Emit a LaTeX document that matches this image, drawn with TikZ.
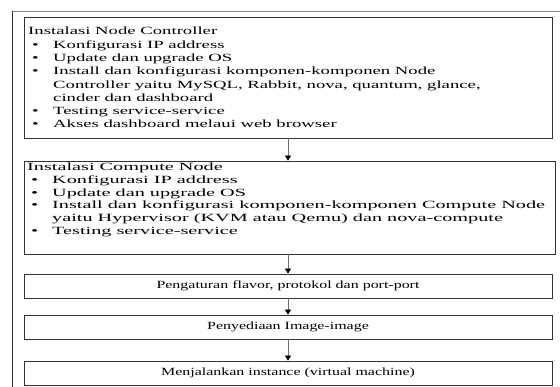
\documentclass[tikz,border=0pt]{standalone}
\usepackage{fontspec}
\setmainfont{Liberation Serif}[FakeStretch=1.45]
\newfontfamily\listfa{Liberation Serif}[FakeStretch=1.70]
\newfontfamily\listfb{Liberation Serif}[FakeStretch=1.84]
\usetikzlibrary{arrows.meta}
\definecolor{edge}{HTML}{333333}
\definecolor{frame}{HTML}{8A8A8A}
\definecolor{conn}{HTML}{707070}
\newcommand\bl{\hspace*{4pt}\makebox[21pt][l]{\textbullet}}
\newcommand\ind{\hspace*{25pt}}
\tikzset{
  box/.style={draw=edge, line width=0.8pt, inner sep=0pt, rectangle},
  listtext/.style={inner sep=0pt, align=left, anchor=north west},
  flow/.style={draw=conn, line width=0.8pt, -{Triangle[length=5pt,width=6pt,color=black]}},
  mid/.style={inner sep=0pt}
}
\begin{document}
\begin{tikzpicture}[x=1pt,y=-1pt,font=\fontsize{11}{13.3}\selectfont]
\useasboundingbox (0,0) rectangle (560,387);
% outer frame
\coordinate (ftl) at (12,11);
\coordinate (ftr) at (560,11);
\coordinate (fbl) at (12,387);
\draw[frame, line width=0.8pt] (ftl) -- (ftr);
\draw[edge, line width=0.8pt] (ftl) -- (fbl);
% boxes
\node[box, minimum width=528pt, minimum height=121pt] (b1) at (288,77.5) {};
\node[box, minimum width=531pt, minimum height=93pt] (b2) at (289.5,207.5) {};
\node[box, minimum width=528pt, minimum height=24pt] (b3) at (288,286) {};
\node[box, minimum width=528pt, minimum height=24pt] (b4) at (288,327) {};
\node[box, minimum width=528pt, minimum height=24pt] (b5) at (288,373) {};
% texts
\node[listtext, font=\fontsize{11}{13.3}\listfa] (t1) at (28,27) {Instalasi Node Controller\\
\bl Konfigurasi IP address\\
\bl Update dan upgrade OS\\
\bl Install dan konfigurasi komponen-komponen Node\\
\ind Controller yaitu MySQL, Rabbit, nova, quantum, glance,\\
\ind cinder dan dashboard\\
\bl Testing service-service\\
\bl Akses dashboard melaui web browser};
\node[listtext, font=\fontsize{11}{12.7}\listfb] (t2) at (27,163) {Instalasi Compute Node\\
\bl Konfigurasi IP address\\
\bl Update dan upgrade OS\\
\bl Install dan konfigurasi komponen-komponen Compute Node\\
\ind yaitu Hypervisor (KVM atau Qemu) dan nova-compute\\
\bl Testing service-service};
\node[mid] (t3) at (b3.center) {Pengaturan flavor, protokol dan port-port};
\node[mid] (t4) at (b4.center) {Penyediaan Image-image};
\node[mid] (t5) at (b5.center) {Menjalankan instance (virtual machine)};
% connectors
\draw[flow] (b1.south) -- (b1.south |- b2.north);
\draw[flow] (b2.south -| b1.south) -- (b3.north);
\draw[flow] (b3.south) -- (b4.north);
\draw[flow] (b4.south) -- (b5.north);
\end{tikzpicture}
\end{document}
